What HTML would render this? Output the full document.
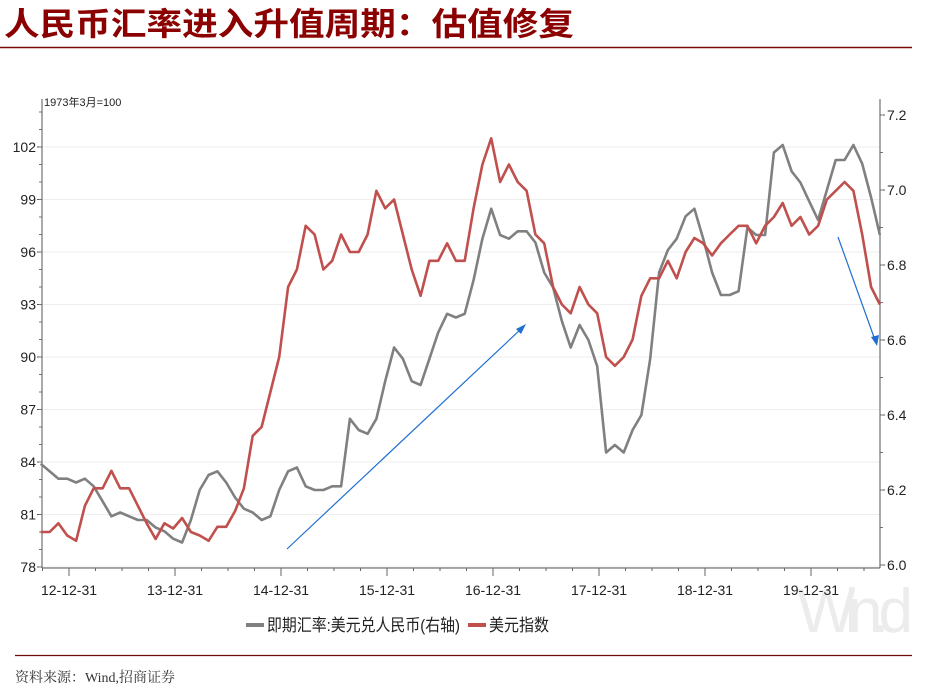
<!DOCTYPE html>
<html><head><meta charset="utf-8"><style>
body{margin:0;width:950px;height:690px;background:#fff;overflow:hidden;font-family:"Liberation Sans","Noto Sans CJK SC",sans-serif}
</style></head><body>
<svg width="950" height="690" xmlns="http://www.w3.org/2000/svg">
<text x="4" y="35" font-size="32" font-weight="bold" fill="#8b0000" font-family="'Noto Sans CJK SC',sans-serif" textLength="570" lengthAdjust="spacingAndGlyphs">人民币汇率进入升值周期：估值修复</text>
<line x1="0" y1="47.5" x2="912" y2="47.5" stroke="#7a0a0a" stroke-width="1.5"/>
<text x="797" y="632" font-size="62" fill="#ececec" font-family="'Liberation Sans',sans-serif" textLength="116">Win.d</text>
<g id="grid"></g><g id="axes"></g><g id="series"></g>
<text x="44" y="106" font-size="11" fill="#222">1973年3月=100</text>
<line x1="287" y1="549" x2="521" y2="329" stroke="#1f6fd0" stroke-width="1.2"/>
<polygon points="526,324 516,329 521,334" fill="#1f6fd0"/>
<line x1="838" y1="237" x2="875" y2="340" stroke="#1f6fd0" stroke-width="1.2"/>
<polygon points="877,346 871,337 879,335" fill="#1f6fd0"/>
<g>
<line x1="246" y1="625" x2="264" y2="625" stroke="#808080" stroke-width="4"/>
<text x="267" y="631" font-size="17" fill="#222" textLength="193" lengthAdjust="spacingAndGlyphs">即期汇率:美元兑人民币(右轴)</text>
<line x1="468" y1="625" x2="486" y2="625" stroke="#c0504d" stroke-width="4"/>
<text x="489" y="631" font-size="17" fill="#222" textLength="60" lengthAdjust="spacingAndGlyphs">美元指数</text>
</g>
<line x1="15" y1="655.5" x2="912" y2="655.5" stroke="#6b0a0a" stroke-width="1.2"/>
<text x="15" y="682" font-size="14" fill="#333" font-family="'Liberation Serif','Noto Serif CJK SC',serif">资料来源：Wind,招商证券</text>
</svg>
<script>
const leftTicks=[78,81,84,87,90,93,96,99,102];
const rightTicks=[6.0,6.2,6.4,6.6,6.8,7.0,7.2];
const xLabels=["12-12-31","13-12-31","14-12-31","15-12-31","16-12-31","17-12-31","18-12-31","19-12-31"];
const startMonth=-3.2; // months relative to 2012-12-31
const dxy=[80,80,80.5,79.8,79.5,81.5,82.5,82.5,83.5,82.5,82.5,81.5,80.5,79.6,80.5,80.2,80.8,80,79.8,79.5,80.3,80.3,81.2,82.5,85.5,86,88,90,94,95,97.5,97,95,95.5,97,96,96,97,99.5,98.5,99,97,95,93.5,95.5,95.5,96.5,95.5,95.5,98.5,101,102.5,100,101,100,99.5,97,96.5,94,93,92.5,94,93,92.5,90,89.5,90,91,93.5,94.5,94.5,95.5,94.5,96,96.8,96.5,95.8,96.5,97,97.5,97.5,96.5,97.5,98,98.8,97.5,98,97,97.5,99,99.5,100,99.5,97,94,93];
const usdcny=[6.27,6.25,6.23,6.23,6.22,6.23,6.21,6.17,6.13,6.14,6.13,6.12,6.12,6.10,6.09,6.07,6.06,6.12,6.20,6.24,6.25,6.22,6.18,6.15,6.14,6.12,6.13,6.20,6.25,6.26,6.21,6.20,6.20,6.21,6.21,6.39,6.36,6.35,6.39,6.49,6.58,6.55,6.49,6.48,6.55,6.62,6.67,6.66,6.67,6.76,6.87,6.95,6.88,6.87,6.89,6.89,6.86,6.78,6.74,6.65,6.58,6.64,6.60,6.53,6.30,6.32,6.30,6.36,6.40,6.55,6.78,6.84,6.87,6.93,6.95,6.87,6.78,6.72,6.72,6.73,6.90,6.88,6.88,7.10,7.12,7.05,7.02,6.97,6.92,7.00,7.08,7.08,7.12,7.07,6.98,6.88];
const NS="http://www.w3.org/2000/svg";
const L=42,R=880,B=567;
const yL=v=>567-(v-78)*17.5;
const yR=v=>565-(v-6.0)*375;
const xM=m=>69+m/12*106;
function mk(t,a,p){const e=document.createElementNS(NS,t);for(const k in a)e.setAttribute(k,a[k]);p.appendChild(e);return e;}
const grid=document.getElementById('grid'),axes=document.getElementById('axes'),ser=document.getElementById('series');
leftTicks.forEach(v=>{
 const g=mk('line',{x1:L,x2:R,y1:yL(v),y2:yL(v),stroke:'#eeeeee'},grid);
 
 
 mk('line',{x1:L-5,x2:L,y1:yL(v),y2:yL(v),stroke:'#555'},axes);
 const t=mk('text',{x:L-6,y:yL(v)+5,'text-anchor':'end','font-size':14,fill:'#222'},axes);t.textContent=v;
 
 
});
for(let v=78;v<=104;v++){mk('line',{x1:L-3,x2:L,y1:yL(v),y2:yL(v),stroke:'#777'},axes);}
rightTicks.forEach(v=>{
 mk('line',{x1:R,x2:R+5,y1:yR(v),y2:yR(v),stroke:'#555'},axes);
 const t=mk('text',{x:R+7,y:yR(v)+5,'font-size':14,fill:'#222'},axes);t.textContent=v.toFixed(1);
 
 
});
for(let v=6.0;v<=7.21;v+=0.1){mk('line',{x1:R,x2:R+3,y1:yR(v),y2:yR(v),stroke:'#777'},axes);}
mk('line',{x1:L,x2:L,y1:99,y2:B+1,stroke:'#555'},axes);
mk('line',{x1:R,x2:R,y1:99,y2:B+1,stroke:'#555'},axes);
mk('line',{x1:L,x2:R,y1:B+1,y2:B+1,stroke:'#555'},axes);
for(let m=-3;m<=93;m+=3){const x=xM(m);if(x<L||x>R)continue;mk('line',{x1:x,x2:x,y1:B+1,y2:B+(m%12==0?9:4),stroke:'#666'},axes);}
xLabels.forEach((s,i)=>{const t=mk('text',{x:xM(i*12),y:595,'text-anchor':'middle','font-size':14,fill:'#222'},axes);t.textContent=s;
 
 });
function line(arr,yf,col,name){
 const d=arr.map((v,i)=>(i?'L':'M')+xM(startMonth+i).toFixed(1)+','+yf(v).toFixed(1)).join('');
 const p=mk('path',{d:d,fill:'none',stroke:col,'stroke-width':2.6,'stroke-linejoin':'round'},ser);
 
 
}
line(usdcny,yR,'#808080','usdcny-line');
line(dxy,yL,'#c0504d','dxy-line');
</script>
</body></html>
